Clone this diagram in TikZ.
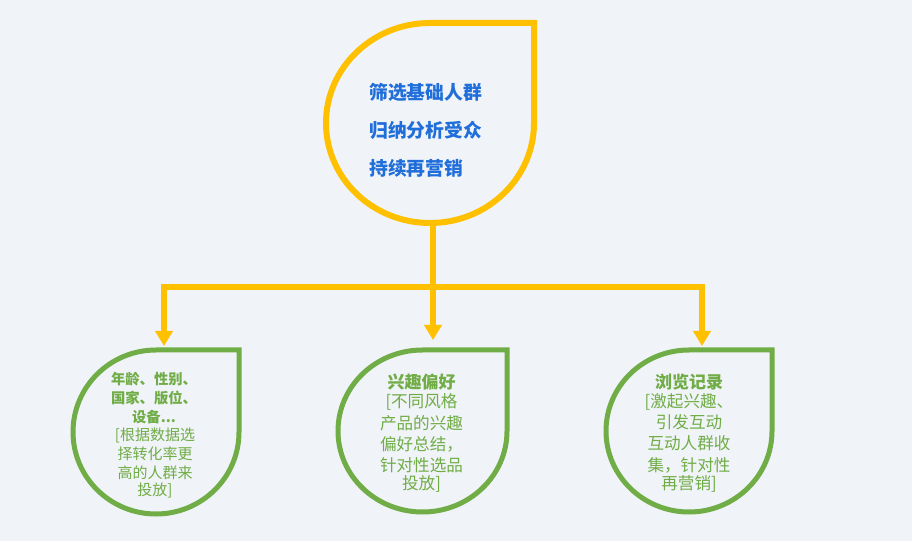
\documentclass[tikz,border=0pt]{standalone}
\usepackage{fontspec}
\setmainfont{Noto Sans CJK SC}
\usetikzlibrary{arrows.meta}
\definecolor{bgc}{RGB}{240,243,247}
\definecolor{ylw}{RGB}{255,192,0}
\definecolor{grn}{RGB}{112,173,71}
\definecolor{blu}{RGB}{31,110,218}
\tikzset{
  drop/.style={line width=#1, line join=miter},
  conn/.style={draw=ylw, line width=5.5pt, line join=miter},
  tip/.style={-{Triangle[width=17pt,length=15pt]}},
  ttl/.style={text=blu, font=\bfseries\fontsize{18.8}{20}\selectfont, anchor=west, inner sep=0pt},
  hs/.style={text=grn, font=\bfseries\fontsize{14.3}{16}\selectfont, inner sep=0pt},
  bs/.style={text=grn, font=\fontsize{15}{17}\selectfont, inner sep=0pt},
  hm/.style={text=grn, font=\bfseries\fontsize{17}{19}\selectfont, inner sep=0pt},
  bm/.style={text=grn, font=\fontsize{16.6}{19}\selectfont, inner sep=0pt},
}
\begin{document}
\begin{tikzpicture}[x=1pt,y=1pt]
\useasboundingbox[fill=bgc] (0,0) rectangle (912,541);
% top drop (center 430,123 px -> Y=418)
\draw[ylw, drop=6pt] (534,418) arc[start angle=0, end angle=-270, x radius=104pt, y radius=100pt] -- (534,518) -- cycle;
% bottom drops
\draw[grn, drop=5pt] (239,109) arc[start angle=0, end angle=-270, x radius=83pt, y radius=82pt] -- (239,191) -- cycle;
\draw[grn, drop=5pt] (507,110) arc[start angle=0, end angle=-270, x radius=84.5pt, y radius=81pt] -- (507,191) -- cycle;
\draw[grn, drop=5pt] (772,110) arc[start angle=0, end angle=-270, x radius=83pt, y radius=81pt] -- (772,191) -- cycle;
% connector points
\coordinate (topbot) at (433,319);
\coordinate (hub) at (433,254);
\coordinate (tipL) at (164,195);
\coordinate (tipM) at (433,201);
\coordinate (tipR) at (702,195);
\draw[conn] (topbot) -- (hub);
\draw[conn, tip] (hub) -| (tipL);
\draw[conn, tip] (hub) -- (tipM);
\draw[conn, tip] (hub) -| (tipR);
% top text
\node[ttl] (t1) at (369,449) {筛选基础人群};
\node[ttl] (t2) at (369,411) {归纳分析受众};
\node[ttl] (t3) at (369,373) {持续再营销};
% left text
\node[hs] (l1) at (154,162) {年龄、性别、};
\node[hs] (l2) at (154,143) {国家、版位、};
\node[hs] (l3) at (154,124) {设备...};
\node[bs] (l4) at (155,106) {[根据数据选};
\node[bs] (l5) at (155,87) {择转化率更};
\node[bs] (l6) at (155,68) {高的人群来};
\node[bs] (l7) at (155,51) {投放]};
% middle text
\node[hm] (m1) at (421.5,159) {兴趣偏好};
\node[bm] (m2) at (421.5,139) {[不同风格};
\node[bm] (m3) at (421.5,118) {产品的兴趣};
\node[bm] (m4) at (421.5,97) {偏好总结，};
\node[bm] (m5) at (421.5,76) {针对性选品};
\node[bm] (m6) at (421.5,57) {投放]};
% right text
\node[hm] (r1) at (689,159) {浏览记录};
\node[bm] (r2) at (689,139) {[激起兴趣、};
\node[bm] (r3) at (689,119) {引发互动};
\node[bm] (r4) at (689,98) {互动人群收};
\node[bm] (r5) at (689,76) {集，针对性};
\node[bm] (r6) at (689,57) {再营销]};
\end{tikzpicture}
\end{document}
